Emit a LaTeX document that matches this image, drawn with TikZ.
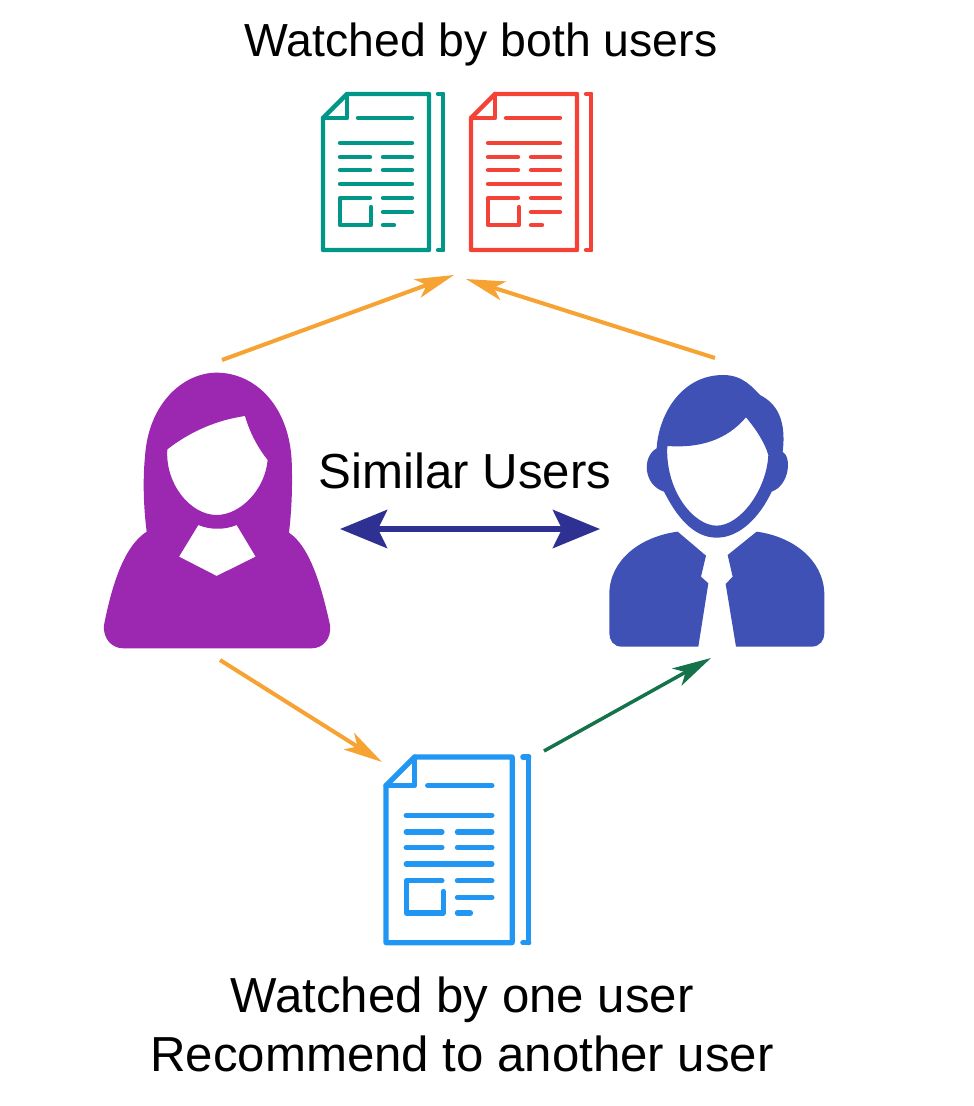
\documentclass[tikz,border=0pt]{standalone}
\usepackage{fontspec}
\setmainfont{Liberation Sans}
\usetikzlibrary{positioning,arrows.meta,calc}
\definecolor{plum}{RGB}{156,39,176}
\definecolor{indigo}{RGB}{63,81,181}
\definecolor{sea}{RGB}{0,150,136}
\definecolor{coral}{RGB}{244,67,54}
\definecolor{sky}{RGB}{33,150,243}
\definecolor{amber}{RGB}{247,163,52}
\definecolor{pine}{RGB}{20,115,75}
\definecolor{deepblue}{RGB}{46,49,146}
% paper sheet: #1 position, #2 scale, #3 colour
\newcommand{\sheet}[3]{
  \begin{scope}[shift={#1},scale=#2,draw=#3,line width=#2*2.5pt,line cap=round,line join=round]
    \draw (0,24)--(24,0)--(106,0)--(106,156)--(0,156)--cycle;
    \draw (24,0)--(24,24)--(0,24);
    \draw (120,0)--(120,156);
    \draw (115,0)--(120,0); \draw (115,156)--(120,156);
    \draw (35,24)--(89,24);
    \draw (17,49)--(89,49);
    \foreach \yy in {63,76} {\draw (17,\yy)--(47,\yy); \draw (60,\yy)--(89,\yy);}
    \draw (17,90)--(89,90);
    \draw (47,104)--(17,104)--(17,131)--(48,131)--(48,113);
    \draw (60,104)--(89,104); \draw (60,118)--(89,118); \draw (60,131)--(71,131);
  \end{scope}}
\begin{document}
\begin{tikzpicture}[x=0.02cm,y=-0.02cm,>=Latex,
    lbl/.style={font=\fontsize{28}{33.4}\selectfont,align=center,inner sep=0pt,anchor=base},
    feed/.style={->,amber,line width=2.3pt,>={Stealth[inset=2mm,length=7.8mm,width=3.9mm]}},
    pass/.style={->,pine,line width=2pt,>={Stealth[inset=2mm,length=7.8mm,width=3.9mm]}},
    link/.style={<->,deepblue,line width=3.6pt,>={Stealth[inset=1.8mm,length=9.4mm,width=7.6mm]}}]
    \useasboundingbox (0,0) rectangle (974,1106);
    % sheets
    \sheet{(323,94)}{1}{sea}
    \sheet{(471,94)}{1}{coral}
    \sheet{(386,757)}{1.19}{sky}
    % woman
    \begin{scope}[shift={(90,360)},x=0.00667cm,y=-0.00667cm]
      \fill[plum,even odd rule] (170,515) .. controls (158,420) and (160,340) .. (165,290)
        .. controls (175,130) and (280,38) .. (380,38)
        .. controls (490,38) and (595,130) .. (605,300)
        .. controls (608,380) and (605,450) .. (597,518)
        .. controls (660,560) and (695,680) .. (720,795)
        .. controls (725,835) and (700,865) .. (665,865) -- (100,865)
        .. controls (65,865) and (38,835) .. (42,795)
        .. controls (65,680) and (100,560) .. (170,515) -- cycle
        (232,268) .. controls (300,215) and (380,180) .. (465,168)
        .. controls (480,220) and (505,265) .. (533,300)
        .. controls (525,390) and (450,465) .. (380,465)
        .. controls (300,465) and (225,370) .. (232,268) -- cycle
        (325,495) .. controls (360,510) and (405,510) .. (440,495)
        -- (497,590) -- (380,648) -- (267,590) -- cycle;
    \end{scope}
    % man
    \begin{scope}[shift={(590,360)},x=0.00667cm,y=-0.00667cm]
      \fill[indigo,even odd rule] (200,265) .. controls (205,170) and (270,45) .. (400,45)
        .. controls (460,45) and (490,85) .. (510,105)
        .. controls (560,130) and (590,180) .. (578,275)
        .. controls (605,290) and (600,375) .. (545,395)
        .. controls (510,470) and (450,533) .. (380,533)
        .. controls (310,533) and (260,470) .. (222,395)
        .. controls (160,375) and (155,290) .. (200,265) -- cycle
        (232,258) .. controls (330,265) and (410,240) .. (468,172)
        .. controls (500,210) and (525,250) .. (535,285)
        .. controls (530,390) and (450,497) .. (380,497)
        .. controls (310,497) and (225,390) .. (232,258) -- cycle;
      \fill[indigo] (263,515) -- (348,587) -- (333,650) -- (355,670) -- (325,860) -- (95,860)
        .. controls (70,860) and (58,840) .. (58,820) -- (58,700)
        .. controls (60,600) and (150,530) .. (263,515) -- cycle;
      \fill[indigo] (500,515) -- (413,585) -- (428,650) -- (407,672) -- (438,860) -- (665,860)
        .. controls (690,860) and (703,840) .. (703,820) -- (703,700)
        .. controls (700,600) and (610,530) .. (500,515) -- cycle;
    \end{scope}
    % labels
    \node[lbl,font=\fontsize{26.4}{32}\selectfont] (both) at (481,56) {Watched by both users};
    \node[lbl] (simi) at (465,488) {Similar Users};
    \node[lbl] (reco) at (462,1071) {Watched by one user\\Recommend to another user};
    % arrow ends
    \coordinate (wtop) at (222,360);
    \coordinate (mtop) at (715,358);
    \coordinate (dleft) at (454,275);
    \coordinate (dright) at (466,279);
    \coordinate (wbot) at (220,660);
    \coordinate (sin) at (382,762);
    \coordinate (sout) at (544,751);
    \coordinate (mbot) at (711,658);
    \coordinate (wmid) at (340,529);
    \coordinate (mmid) at (600,529);
    \draw[feed] (wtop)--(dleft);
    \draw[feed] (mtop)--(dright);
    \draw[feed] (wbot)--(sin);
    \draw[pass] (sout)--(mbot);
    \draw[link] (wmid)--(mmid);
  \end{tikzpicture}
\end{document}
